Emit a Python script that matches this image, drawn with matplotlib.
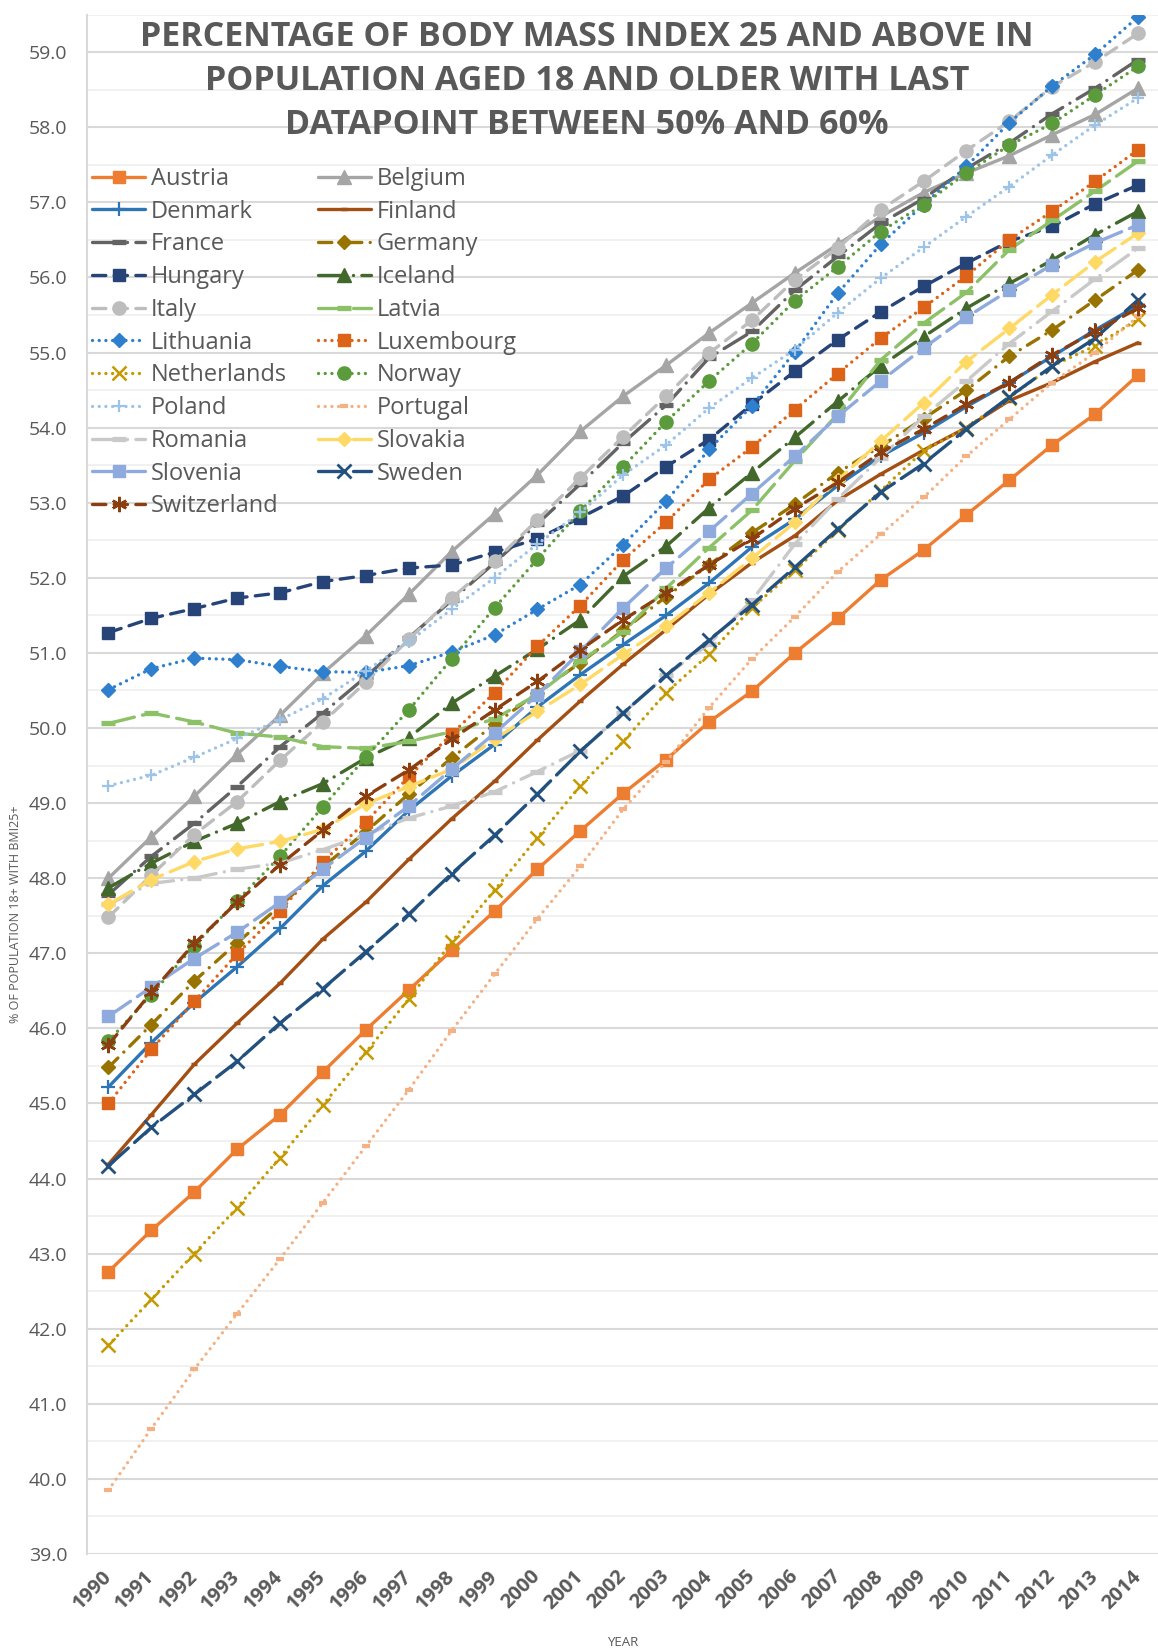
import matplotlib
matplotlib.use("Agg")
import matplotlib.pyplot as plt
from matplotlib.ticker import MultipleLocator, FormatStrFormatter

years = [str(y) for y in range(1990, 2015)]

austria = [42.76, 43.31, 43.82, 44.39, 44.85, 45.42, 45.98, 46.51, 47.04, 47.56, 48.12, 48.63, 49.13, 49.58, 50.08, 50.49, 51.00, 51.46, 51.97, 52.37, 52.84, 53.30, 53.77, 54.18, 54.70]
belgium = [48.00, 48.55, 49.09, 49.65, 50.17, 50.73, 51.23, 51.78, 52.35, 52.85, 53.37, 53.95, 54.42, 54.83, 55.26, 55.66, 56.06, 56.44, 56.81, 57.13, 57.39, 57.62, 57.90, 58.17, 58.52]
denmark = [45.22, 45.81, 46.34, 46.82, 47.33, 47.90, 48.36, 48.90, 49.36, 49.78, 50.28, 50.71, 51.11, 51.50, 51.93, 52.41, 52.78, 53.23, 53.62, 53.93, 54.28, 54.60, 54.95, 55.30, 55.63]
finland = [44.19, 44.85, 45.52, 46.07, 46.60, 47.19, 47.68, 48.25, 48.79, 49.29, 49.84, 50.36, 50.85, 51.31, 51.78, 52.20, 52.56, 53.03, 53.38, 53.70, 54.00, 54.36, 54.60, 54.88, 55.13]
france = [47.78, 48.29, 48.73, 49.22, 49.75, 50.20, 50.68, 51.20, 51.70, 52.20, 52.72, 53.25, 53.80, 54.30, 54.93, 55.28, 55.83, 56.28, 56.72, 57.05, 57.45, 57.79, 58.18, 58.52, 58.90]
germany = [45.48, 46.05, 46.63, 47.14, 47.63, 48.15, 48.62, 49.12, 49.60, 50.05, 50.47, 50.87, 51.30, 51.75, 52.17, 52.60, 52.98, 53.40, 53.75, 54.12, 54.50, 54.95, 55.30, 55.70, 56.10]
hungary = [51.27, 51.46, 51.59, 51.73, 51.80, 51.95, 52.03, 52.13, 52.17, 52.34, 52.52, 52.80, 53.09, 53.48, 53.84, 54.31, 54.75, 55.17, 55.54, 55.88, 56.19, 56.48, 56.68, 56.98, 57.23]
iceland = [47.87, 48.20, 48.49, 48.73, 49.02, 49.26, 49.60, 49.87, 50.33, 50.69, 51.05, 51.44, 52.02, 52.42, 52.93, 53.40, 53.87, 54.35, 54.82, 55.21, 55.59, 55.92, 56.23, 56.57, 56.88]
italy = [47.48, 48.04, 48.58, 49.02, 49.57, 50.08, 50.61, 51.18, 51.73, 52.22, 52.77, 53.33, 53.88, 54.42, 54.99, 55.43, 55.97, 56.39, 56.90, 57.28, 57.69, 58.08, 58.54, 58.87, 59.25]
latvia = [50.06, 50.20, 50.08, 49.93, 49.88, 49.75, 49.73, 49.82, 49.95, 50.12, 50.45, 50.89, 51.28, 51.86, 52.40, 52.90, 53.56, 54.18, 54.90, 55.39, 55.80, 56.37, 56.76, 57.15, 57.55]
lithuania = [50.51, 50.79, 50.93, 50.91, 50.82, 50.75, 50.74, 50.83, 51.01, 51.24, 51.58, 51.91, 52.44, 53.02, 53.71, 54.29, 55.01, 55.79, 56.44, 56.97, 57.48, 58.06, 58.55, 58.97, 59.47]
luxembourg = [45.00, 45.72, 46.36, 46.99, 47.56, 48.22, 48.75, 49.35, 49.92, 50.47, 51.09, 51.63, 52.24, 52.74, 53.31, 53.74, 54.24, 54.72, 55.19, 55.60, 56.02, 56.50, 56.88, 57.28, 57.70]
netherlands = [41.78, 42.39, 43.00, 43.61, 44.28, 44.98, 45.68, 46.39, 47.15, 47.84, 48.54, 49.23, 49.82, 50.47, 50.98, 51.60, 52.10, 52.63, 53.16, 53.69, 54.00, 54.40, 54.82, 55.09, 55.44]
norway = [45.83, 46.45, 47.10, 47.70, 48.29, 48.95, 49.61, 50.24, 50.92, 51.60, 52.25, 52.89, 53.48, 54.08, 54.62, 55.12, 55.69, 56.14, 56.61, 56.97, 57.39, 57.76, 58.05, 58.43, 58.81]
poland = [49.23, 49.37, 49.61, 49.86, 50.11, 50.39, 50.76, 51.15, 51.58, 52.00, 52.45, 52.87, 53.37, 53.77, 54.26, 54.66, 55.04, 55.53, 55.99, 56.40, 56.81, 57.21, 57.63, 58.03, 58.39]
portugal = [39.85, 40.67, 41.46, 42.20, 42.93, 43.68, 44.43, 45.18, 45.97, 46.72, 47.46, 48.16, 48.92, 49.55, 50.27, 50.92, 51.48, 52.08, 52.58, 53.07, 53.62, 54.11, 54.60, 55.00, 55.48]
romania = [47.65, 47.93, 48.00, 48.12, 48.20, 48.38, 48.58, 48.80, 48.96, 49.15, 49.42, 49.70, 50.20, 50.70, 51.12, 51.70, 52.45, 53.05, 53.60, 54.15, 54.62, 55.12, 55.55, 55.98, 56.39]
slovakia = [47.65, 47.98, 48.22, 48.39, 48.49, 48.65, 48.99, 49.22, 49.45, 49.85, 50.22, 50.58, 50.98, 51.36, 51.80, 52.26, 52.74, 53.30, 53.82, 54.33, 54.88, 55.32, 55.77, 56.21, 56.59]
slovenia = [46.16, 46.55, 46.93, 47.28, 47.68, 48.12, 48.54, 48.96, 49.45, 49.93, 50.44, 51.02, 51.60, 52.13, 52.62, 53.12, 53.62, 54.15, 54.62, 55.06, 55.47, 55.83, 56.17, 56.46, 56.70]
sweden = [44.17, 44.68, 45.12, 45.56, 46.07, 46.53, 47.02, 47.52, 48.06, 48.57, 49.12, 49.69, 50.20, 50.70, 51.17, 51.64, 52.14, 52.65, 53.14, 53.52, 53.98, 54.41, 54.82, 55.19, 55.70]
switzerland = [45.78, 46.48, 47.13, 47.68, 48.18, 48.64, 49.09, 49.44, 49.85, 50.24, 50.62, 51.04, 51.44, 51.80, 52.17, 52.52, 52.92, 53.27, 53.67, 53.98, 54.31, 54.60, 54.97, 55.28, 55.59]

# line patterns (in units of line width)
SOLID = "-"
DOT = (0, (0.01, 2.0))
DASH = (0, (4, 2.5))
LONG_DASH = (0, (8, 2.5))
DASH_DOT = (0, (4, 2.5, 0.01, 2.5))
LONG_DASH_DOT = (0, (8, 2.5, 0.01, 2.5))
STAR = (6, 2, 0)

# name, values, colour, linestyle, marker, marker size, marker edge width
series = [
    ("Austria", austria, "#ED7D31", SOLID, "s", 9, 1),
    ("Belgium", belgium, "#A5A5A5", SOLID, "^", 9.5, 1),
    ("Denmark", denmark, "#2E75B6", SOLID, "+", 10, 1.6),
    ("Finland", finland, "#A34E12", SOLID, "_", 5, 2.5),
    ("France", france, "#636363", LONG_DASH_DOT, "_", 10, 3.8),
    ("Germany", germany, "#997300", DASH_DOT, "D", 7.5, 1),
    ("Hungary", hungary, "#264478", DASH, "s", 9, 1),
    ("Iceland", iceland, "#43682B", LONG_DASH_DOT, "^", 9.5, 1),
    ("Italy", italy, "#BDBDBD", DASH, "o", 9.5, 1),
    ("Latvia", latvia, "#8CC168", LONG_DASH, "_", 10, 3.8),
    ("Lithuania", lithuania, "#2E7FCD", DOT, "D", 7.5, 1),
    ("Luxembourg", luxembourg, "#DC6318", DOT, "s", 9, 1),
    ("Netherlands", netherlands, "#C49A00", DOT, "x", 10, 1.8),
    ("Norway", norway, "#5B9B3B", DOT, "o", 9.5, 1),
    ("Poland", poland, "#9DC3E6", DOT, "+", 9, 1.6),
    ("Portugal", portugal, "#F4B183", DOT, "_", 6, 3),
    ("Romania", romania, "#C9C9C9", LONG_DASH_DOT, "_", 10, 3.8),
    ("Slovakia", slovakia, "#FFD966", LONG_DASH, "D", 7.5, 1),
    ("Slovenia", slovenia, "#8FAADC", LONG_DASH, "s", 9, 1),
    ("Sweden", sweden, "#22517F", LONG_DASH, "x", 10, 2),
    ("Switzerland", switzerland, "#8B3E10", DASH, STAR, 11, 1.8),
]

plt.rcParams["font.family"] = ["Open Sans", "DejaVu Sans"]
TEXT = "#595959"

fig = plt.figure(figsize=(11.58, 16.51), dpi=100)
ax = fig.add_axes([87 / 1158, 1 - 1554 / 1651, 1072.5 / 1158, (1554 - 14.6) / 1651])

x = list(range(len(years)))
handles = {}
for name, vals, color, ls, mk, ms, mew in series:
    line, = ax.plot(x, vals, color=color, linestyle=ls, linewidth=2.4,
                    marker=mk, markersize=ms, markeredgewidth=mew,
                    markerfacecolor=color, markeredgecolor=color,
                    dash_capstyle="round", solid_capstyle="round", label=name)
    handles[name] = line

ax.set_xlim(-0.5, len(years) - 0.5)
ax.set_ylim(39, 59.5)
ax.set_xticks(x)
ax.set_xticklabels(years, rotation=45, ha="right", va="center",
                   rotation_mode="anchor", fontweight="bold", fontsize=14.5, color=TEXT)
ax.yaxis.set_major_locator(MultipleLocator(1.0))
ax.yaxis.set_minor_locator(MultipleLocator(0.5))
ax.yaxis.set_major_formatter(FormatStrFormatter("%.1f"))
ax.tick_params(axis="y", which="both", length=0, pad=14, labelsize=14, labelcolor=TEXT)
ax.tick_params(axis="x", length=0, pad=14)
ax.grid(axis="y", which="major", color="#D9D9D9", linewidth=1.5)
ax.grid(axis="y", which="minor", color="#EDEDED", linewidth=1.1)
ax.set_axisbelow(True)
for side in ("top", "right", "bottom"):
    ax.spines[side].set_visible(False)
ax.spines["left"].set_color("#D9D9D9")
ax.spines["left"].set_linewidth(1.5)

fig.text(16 / 1158, 1 - 914 / 1651, "% OF POPULATION 18+ WITH BMI25+", rotation=90,
         ha="center", va="center", fontsize=9, color=TEXT)
fig.text(623 / 1158, 1 - 1642 / 1651, "YEAR", ha="center", va="center", fontsize=9.5, color=TEXT)

fig.text(587 / 1158, 1 - 81 / 1651,
         "PERCENTAGE OF BODY MASS INDEX 25 AND ABOVE IN\n"
         "POPULATION AGED 18 AND OLDER WITH LAST\n"
         "DATAPOINT BETWEEN 50% AND 60%",
         ha="center", va="center", fontsize=24.5, fontweight="bold", color=TEXT,
         linespacing=1.4)

# legend rows read left to right, so list the two columns one after the other
col1 = ["Austria", "Denmark", "France", "Hungary", "Italy", "Lithuania",
        "Netherlands", "Poland", "Romania", "Slovenia", "Switzerland"]
col2 = ["Belgium", "Finland", "Germany", "Iceland", "Latvia", "Luxembourg",
        "Norway", "Portugal", "Slovakia", "Sweden"]
order = col1 + col2
leg = fig.legend([handles[n] for n in order], order, ncol=2, frameon=False,
                 loc="upper left", bbox_to_anchor=(92 / 1158, 1 - 167 / 1651),
                 fontsize=17, handlelength=2.25, handletextpad=0.25,
                 labelspacing=0.37, columnspacing=1.3, borderaxespad=0, borderpad=0)
for t in leg.get_texts():
    t.set_color(TEXT)

fig.savefig("out.png", dpi=100)
